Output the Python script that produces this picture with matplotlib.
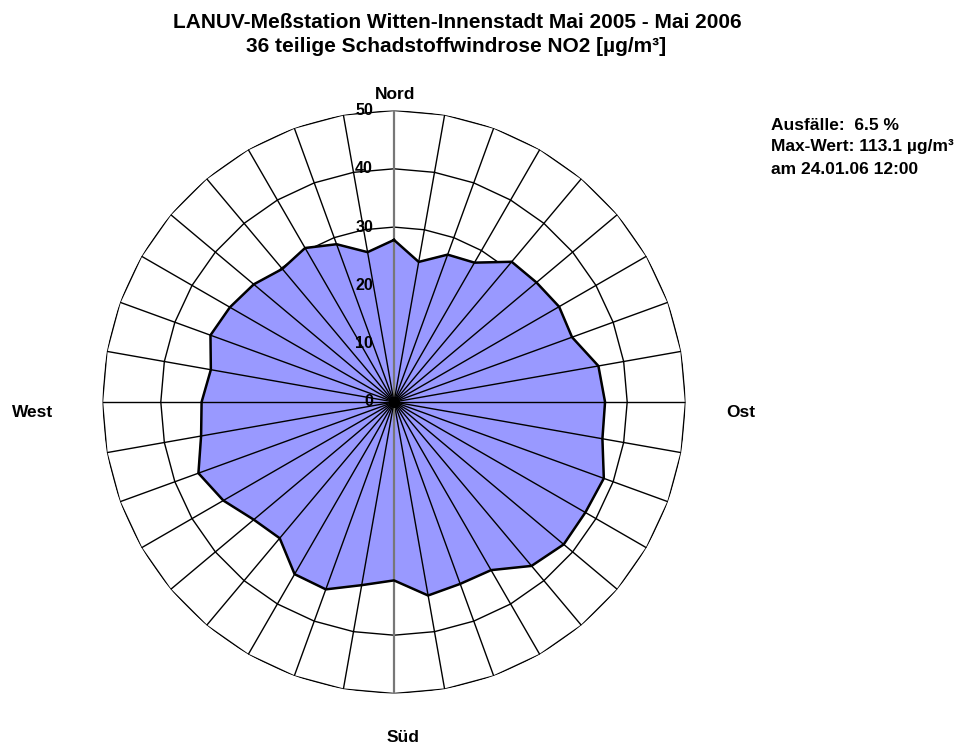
import numpy as np
import matplotlib
matplotlib.use("Agg")
import matplotlib.pyplot as plt

plt.rcParams['font.family'] = ['Liberation Sans', 'DejaVu Sans']

# Data
directions_deg = list(range(0, 360, 10))
no2_values = [27.8, 24.4, 26.9, 27.6, 31.4, 31.9, 32.7, 32.5, 35.6, 36.2,
              36.3, 38.3, 37.9, 38.0, 36.7, 33.3, 33.2, 33.7, 30.6, 31.9,
              34.2, 34.1, 30.5, 31.4, 33.8, 35.7, 33.6, 33.0, 31.9, 33.5,
              32.5, 31.4, 29.8, 30.5, 28.8, 26.1]
ring_values = [10, 20, 30, 40, 50]
ring_labels = ["0", "10", "20", "30", "40", "50"]
compass_labels = ["Nord", "Ost", "Süd", "West"]
title_lines = ["LANUV-Meßstation Witten-Innenstadt Mai 2005 - Mai 2006",
               "36 teilige Schadstoffwindrose NO2 [µg/m³]"]
info_lines = ["Ausfälle:  6.5 %", "Max-Wert: 113.1 µg/m³", "am 24.01.06 12:00"]
r_max = 50

W, H = 962, 747
fig = plt.figure(figsize=(W / 100, H / 100), dpi=100)
cx, cy, R = 394, 402, 291.5
ax = fig.add_axes([(cx - R) / W, (H - cy - R) / H, 2 * R / W, 2 * R / H],
                  projection='polar')
ax.set_theta_zero_location('N')
ax.set_theta_direction(-1)
ax.set_ylim(0, r_max)
ax.grid(False)
ax.set_xticks([])
ax.set_yticks([])
ax.spines['polar'].set_visible(False)
ax.patch.set_alpha(0)

theta = np.deg2rad(directions_deg)
theta_c = np.append(theta, theta[0])
vals_c = np.append(no2_values, no2_values[0])

# polygon rings (below the fill)
for v in ring_values:
    ax.plot(theta_c, [v] * len(theta_c), color='black', lw=1.0, zorder=0.5)

# fill
ax.fill(theta_c, vals_c, color='#9999FF', zorder=1)

# spokes
for t, d in zip(theta, directions_deg):
    col = '#777777' if d in (0, 180) else 'black'
    lw = 1.6 if d in (0, 180) else 1.0
    ax.plot([t, t], [0, r_max], color=col, lw=lw, zorder=3)

# outline
ax.plot(theta_c, vals_c, color='black', lw=1.8, zorder=4)

# center blob
ax.plot([0], [0], marker='o', color='black', markersize=7, zorder=5)

# ring labels
for i, lab in enumerate(ring_labels):
    ax.annotate(lab, xy=(0, i * 10), xytext=(-21, 0), textcoords='offset pixels',
                ha='right', va='center', fontsize=11.5, fontweight='bold', zorder=6)

# compass labels (pixel positions: x centre, baseline y)
compass_pos = [(395.5, 99), (741, 416.5), (403, 741.5), (33, 416.5)]
for lab, (x, y) in zip(compass_labels, compass_pos):
    fig.text(x / W, 1 - y / H, lab, ha='center', va='baseline',
             fontsize=12.5, fontweight='bold')

# title
fig.text(457.5 / W, 1 - 27.5 / H, title_lines[0], ha='center', va='baseline',
         fontsize=15, fontweight='bold')
fig.text(456 / W, 1 - 52 / H, title_lines[1], ha='center', va='baseline',
         fontsize=15, fontweight='bold')

# info
for i, line in enumerate(info_lines):
    fig.text(771 / W, 1 - (129.5 + 22 * i) / H, line, ha='left', va='baseline',
             fontsize=12.5, fontweight='bold')

fig.savefig('out.png', dpi=100, facecolor='white')
